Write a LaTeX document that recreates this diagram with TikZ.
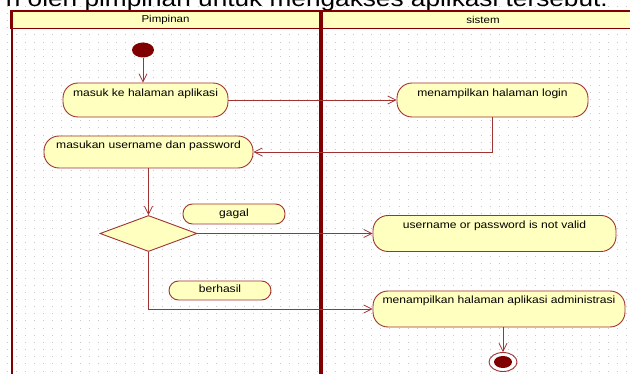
\documentclass[tikz,border=0pt]{standalone}
\usepackage{fontspec}
\setmainfont{Liberation Sans}[FakeStretch=1.15]
\usetikzlibrary{arrows.meta,shapes.geometric,positioning}
\definecolor{lanered}{RGB}{128,0,0}
\definecolor{actred}{RGB}{160,50,50}
\definecolor{actyellow}{RGB}{255,255,192}
\definecolor{dotgray}{RGB}{200,200,200}
\begin{document}
\begin{tikzpicture}[x=1pt,y=-1pt,
    activity/.style={draw=actred,fill=actyellow,line width=0.9pt,rounded corners=15pt,inner sep=0pt,font=\fontsize{10.5}{12}\selectfont},
    guard/.style={activity,rounded corners=9.5pt},
    decision/.style={diamond,draw=actred,fill=actyellow,line width=0.9pt,inner sep=0pt,minimum width=97pt,minimum height=36pt},
    flow/.style={draw=actred,line width=0.8pt,-{Straight Barb[length=8pt,width=8pt]}},
    lane/.style={draw=lanered,line width=#1}]
  \useasboundingbox (0,0) rectangle (630,374);
  \foreach \r in {0,...,51}
    \draw[dotgray,line width=1pt,dash pattern=on 1pt off 8.11pt] (6.8,6.4+7.15*\r) -- (640,6.4+7.15*\r);
  \node (caption) [anchor=base east,inner sep=0pt,font=\fontsize{22.8}{24}\selectfont] at (608,7) {n oleh pimpinan untuk mengakses aplikasi tersebut.};
  \fill[actyellow] (11,11) rectangle (650,28.5);
  \draw[lane=1.6pt] (650,11) -- (11,11) -- (11,28.5) -- (650,28.5);
  \draw[lane=2pt] (11.5,11) -- (11.5,380);
  \draw[lane=4pt] (320.5,11) -- (320.5,380);
  \node (pimpinan) [font=\fontsize{10}{12}\selectfont] at (165.5,20) {Pimpinan};
  \node (sistem) [font=\fontsize{10}{12}\selectfont] at (483,20) {sistem};
  \node (start) [ellipse,fill=lanered,inner sep=0pt,minimum width=22pt,minimum height=15pt] at (143,50) {};
  \node (masuk) [activity,minimum width=165pt,text height=14pt,text depth=20pt] at (145.5,100) {masuk ke halaman aplikasi};
  \node (login) [activity,minimum width=191pt,text height=14pt,text depth=20pt] at (492.5,100) {menampilkan halaman login};
  \node (masukan) [activity,minimum width=209pt,text height=13pt,text depth=19pt] at (148.5,152) {masukan username dan password};
  \node (dec) [decision] at (148.5,233.5) {};
  \node (gagal) [guard,minimum width=102pt,text height=13pt,text depth=7pt] at (234,214) {gagal};
  \node (notvalid) [activity,minimum width=243pt,text height=13pt,text depth=23pt] at (494.5,233.5) {username or password is not valid};
  \node (berhasil) [guard,minimum width=102pt,text height=12pt,text depth=7pt] at (220,290.5) {berhasil};
  \node (admin) [activity,minimum width=252pt,text height=13pt,text depth=23pt] at (499,309) {menampilkan halaman aplikasi administrasi};
  \node (final) [ellipse,draw=actred,fill=white,line width=0.9pt,inner sep=0pt,minimum width=28pt,minimum height=19pt] at (503,362) {};
  \fill[lanered] (final) ellipse [x radius=9pt,y radius=6pt];
  \draw[flow] (start) -- (start |- masuk.north);
  \draw[flow] (masuk) -- (login);
  \draw[flow] (login.south) |- (masukan.east);
  \draw[flow] (masukan) -- (dec);
  \draw[flow] (dec) -- (notvalid);
  \draw[flow] (dec.south) |- (admin.west);
  \draw[flow] (admin.south -| final) -- (final.north);
\end{tikzpicture}
\end{document}
